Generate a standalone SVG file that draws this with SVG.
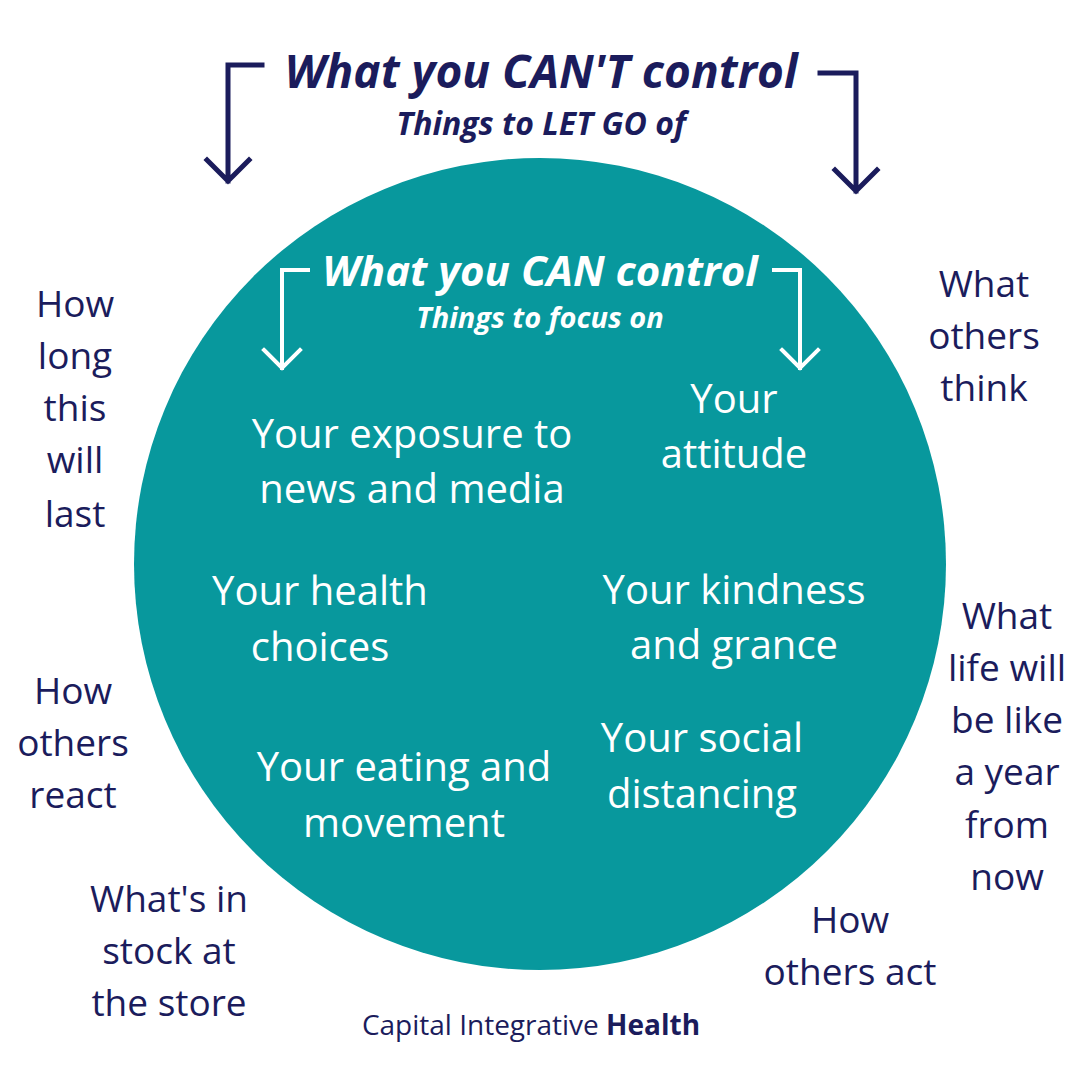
<svg xmlns="http://www.w3.org/2000/svg" width="1080" height="1080" viewBox="0 0 1080 1080">
<style>
.title{font-family:"Open Sans","Liberation Sans",sans-serif;font-weight:700;font-style:italic;text-anchor:middle}
.inner{font-family:"Open Sans","Liberation Sans",sans-serif;font-size:40px;fill:#ffffff;text-anchor:middle}
.outer{font-family:"Open Sans","Liberation Sans",sans-serif;font-size:37px;fill:#1b1c5c;text-anchor:middle}
.navy{stroke:#1b1c5c;stroke-width:5;fill:none;stroke-linecap:square}
.white{stroke:#ffffff;stroke-width:4;fill:none;stroke-linecap:square}
</style>
<rect width="1080" height="1080" fill="#ffffff"/>
<g id="circle"><circle cx="540" cy="564" r="406" fill="#08989d"/></g>
<g id="cant-title">
<text class="title" x="541" y="88" font-size="46" fill="#1b1c5c">What you CAN'T control</text>
<text class="title" x="541" y="135" font-size="32" fill="#1b1c5c">Things to LET GO of</text>
</g>
<g id="can-title">
<text class="title" x="540" y="286" font-size="42" fill="#ffffff">What you CAN control</text>
<text class="title" x="540" y="328" font-size="29" fill="#ffffff">Things to focus on</text>
</g>
<g id="connectors">
<path class="navy" d="M262,65 H228 V181 M207,160 L228,181 L249,160"/>
<path class="navy" d="M820,73 H856 V191 M835,170 L856,191 L877,170"/>
<path class="white" d="M308,270 H282 V368 M264,350 L282,368 L300,350"/>
<path class="white" d="M774,270 H800 V368 M782,350 L800,368 L818,350"/>
</g>
<g id="exposure"><text class="inner" x="412" y="448">Your exposure to</text><text class="inner" x="412" y="503">news and media</text></g>
<g id="attitude"><text class="inner" x="734" y="413">Your</text><text class="inner" x="734" y="468">attitude</text></g>
<g id="health"><text class="inner" x="320" y="605">Your health</text><text class="inner" x="320" y="661">choices</text></g>
<g id="kindness"><text class="inner" x="734" y="604">Your kindness</text><text class="inner" x="734" y="659">and grance</text></g>
<g id="eating"><text class="inner" x="404" y="781">Your eating and</text><text class="inner" x="404" y="837">movement</text></g>
<g id="social"><text class="inner" x="702" y="752">Your social</text><text class="inner" x="702" y="808">distancing</text></g>
<g id="how-long"><text class="outer" x="75" y="317">How</text><text class="outer" x="75" y="369">long</text><text class="outer" x="75" y="421">this</text><text class="outer" x="75" y="473">will</text><text class="outer" x="75" y="527">last</text></g>
<g id="others-think"><text class="outer" x="984" y="297">What</text><text class="outer" x="984" y="349">others</text><text class="outer" x="984" y="401">think</text></g>
<g id="life-year"><text class="outer" x="1007" y="629">What</text><text class="outer" x="1007" y="681">life will</text><text class="outer" x="1007" y="733">be like</text><text class="outer" x="1007" y="785">a year</text><text class="outer" x="1007" y="838">from</text><text class="outer" x="1007" y="890">now</text></g>
<g id="others-react"><text class="outer" x="73" y="704">How</text><text class="outer" x="73" y="756">others</text><text class="outer" x="73" y="808">react</text></g>
<g id="stock"><text class="outer" x="169" y="912">What's in</text><text class="outer" x="169" y="964">stock at</text><text class="outer" x="169" y="1016">the store</text></g>
<g id="others-act"><text class="outer" x="850" y="933">How</text><text class="outer" x="850" y="985">others act</text></g>
<g id="footer"><text x="531" y="1035" font-family="'Open Sans','Liberation Sans',sans-serif" font-size="28" fill="#1b1c5c" text-anchor="middle">Capital Integrative <tspan font-weight="700">Health</tspan></text></g>
</svg>
